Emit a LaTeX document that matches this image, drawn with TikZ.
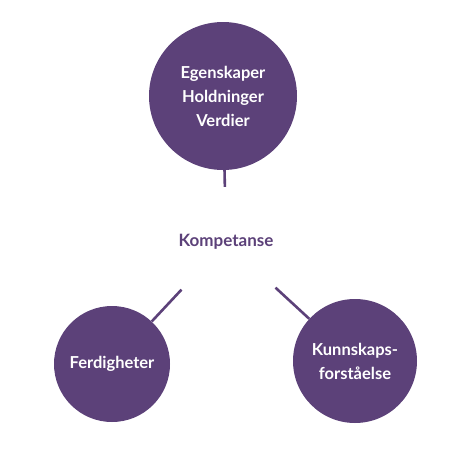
\documentclass[tikz,border=0pt]{standalone}
\usepackage{fontspec}
\setmainfont{Lato}
\usepackage{xcolor}
\usepackage{tikz}
\usetikzlibrary{shapes.geometric}

\definecolor{kompLilla}{RGB}{92,65,121}

\begin{document}
\begin{tikzpicture}[
    x=1pt, y=-1pt,
    area/.style={circle, fill=kompLilla, text=white, font=\bfseries\fontsize{16.5}{24}\selectfont,
                 align=center, inner sep=0pt},
    centre/.style={ellipse, fill=white, minimum width=176pt, minimum height=110pt,
                   text=kompLilla, font=\bfseries\fontsize{17}{20}\selectfont},
    link/.style={kompLilla, line width=2.6pt}
]

\useasboundingbox (0,0) rectangle (450,450);

% Entities
\node[centre] (komp) at (226,242) {Kompetanse};
\node[area, minimum size=148pt] (verdier) at (223,96) {Egenskaper\\Holdninger\\Verdier};
\node[area, minimum size=116pt] (ferd) at (112,364) {Ferdigheter};
\node[area, minimum size=124pt] (kunn) at (355,361) {Kunnskaps-\\forståelse};

% Links
\draw[link] (komp) -- (verdier);
\draw[link] (komp) -- (ferd);
\draw[link] (komp) -- (kunn);

\end{tikzpicture}
\end{document}
